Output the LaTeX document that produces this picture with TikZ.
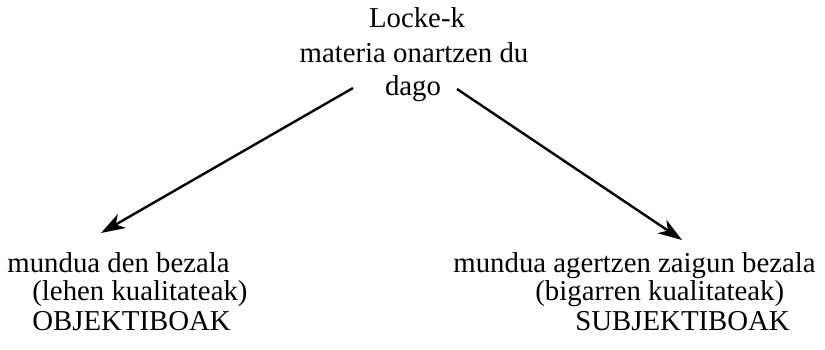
\documentclass[tikz,border=0pt]{standalone}
\usepackage{fontspec}
\setmainfont{Liberation Serif}
\usetikzlibrary{arrows.meta}
\tikzset{line/.style={inner sep=0pt, font=\fontsize{14.4pt}{15pt}\selectfont}}

\begin{document}
\begin{tikzpicture}[x=0.5pt, y=-0.5pt, >={Stealth[length=12pt, width=8pt, inset=3.5pt]}]
\useasboundingbox (0,0) rectangle (825,349);
\node [line, anchor=base] (locke) at (417,27) {Locke-k};
\node [line, anchor=base] (materia) at (414,62) {materia onartzen du};
\node [line, anchor=base] (dago) at (413,95) {dago};
\node [line, anchor=base west] (mundul) at (7,272) {mundua den bezala};
\node [line, anchor=base west] (lehen) at (32,300) {(lehen kualitateak)};
\node [line, anchor=base west] (objekt) at (32,330) {OBJEKTIBOAK};
\node [line, anchor=base west] (mundur) at (453,272) {mundua agertzen zaigun bezala};
\node [line, anchor=base west] (bigarren) at (535,300) {(bigarren kualitateak)};
\node [line, anchor=base west] (subjekt) at (575,330) {SUBJEKTIBOAK};
\coordinate (lstart) at (353,88);
\coordinate (rstart) at (457,89);
\coordinate (lend) at (101,233);
\coordinate (rend) at (682,240);
\draw [->, line width=1.2pt] (lstart) -- (lend);
\draw [->, line width=1.2pt] (rstart) -- (rend);
\end{tikzpicture}
\end{document}
